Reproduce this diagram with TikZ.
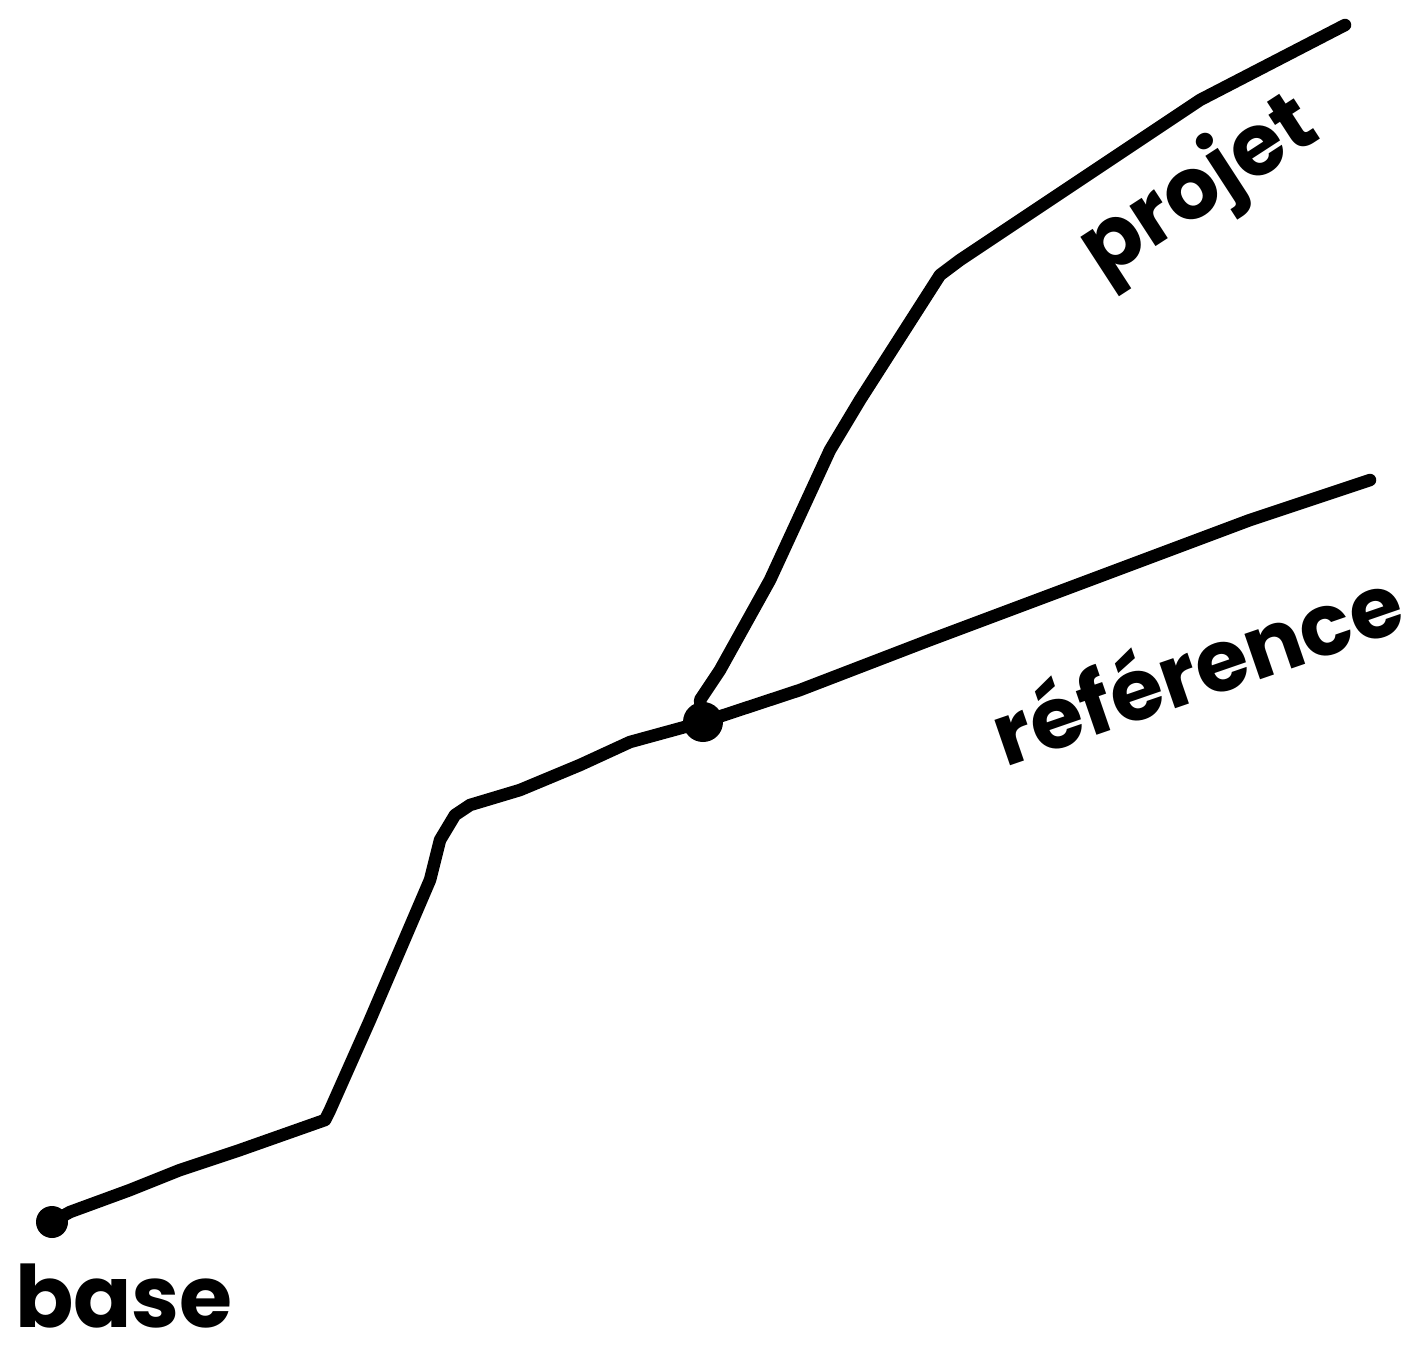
\documentclass[tikz,border=0pt]{standalone}
\usepackage{fontspec}
\newfontfamily\hand{Poppins}[BoldFont={Poppins Bold}]
\begin{document}
\begin{tikzpicture}[x=1pt,y=-1pt,
  stroke/.style={line width=12.5pt,line join=round,line cap=round},
  lbl/.style={font=\hand\bfseries\fontsize{86}{90}\selectfont,inner sep=0pt}]
\useasboundingbox[fill=white] (0,0) rectangle (1421,1360);
\coordinate (b) at (52,1222);
\coordinate (j) at (703,722);
\coordinate (pe) at (1345,25);
\coordinate (re) at (1370,480);
\draw[stroke] (b) -- (70,1212) -- (130,1190) -- (180,1170) -- (240,1150) -- (325,1120)
  -- (330,1110) -- (370,1020) -- (430,880) -- (440,840) -- (455,815) -- (470,805)
  -- (520,790) -- (580,765) -- (630,742) -- (j);
\draw[stroke] (j) -- (800,690) -- (930,640) -- (1090,580) -- (1250,520) -- (re);
\draw[stroke] (j) -- (700,700) -- (720,670) -- (770,580) -- (830,450) -- (860,400)
  -- (940,275) -- (960,260) -- (1050,200) -- (1200,100) -- (pe);
\fill (b) circle[radius=16];
\fill (j) circle[radius=20];
\node[lbl] (tb) at (124,1296) {base};
\node[lbl,rotate=33] (tp) at (1200,190) {projet};
\node[lbl,rotate=19] (tr) at (1196,664) {référence};
\end{tikzpicture}
\end{document}
